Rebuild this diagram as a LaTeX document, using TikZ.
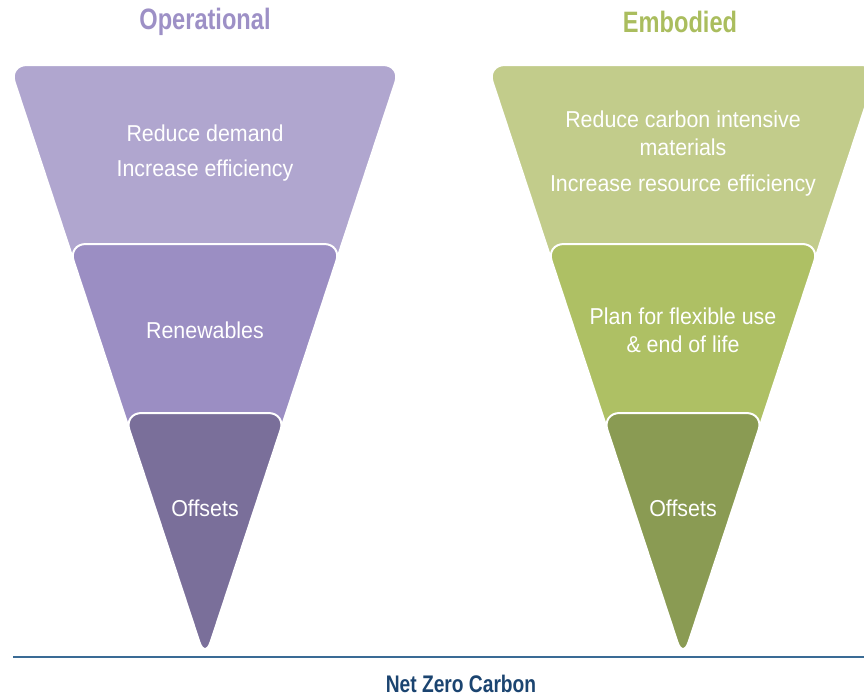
\documentclass[tikz,border=0pt]{standalone}
\usepackage{fontspec}
\setmainfont{Liberation Sans}[FakeStretch=0.93]
\newfontfamily\headfont{Liberation Sans}[FakeStretch=0.8]

% funnel colours
\definecolor{opA}{HTML}{B0A6CF}
\definecolor{opB}{HTML}{9B8EC3}
\definecolor{opC}{HTML}{7A6F9A}
\definecolor{opHead}{HTML}{9D90C6}
\definecolor{emA}{HTML}{C2CC8B}
\definecolor{emB}{HTML}{AEC064}
\definecolor{emC}{HTML}{8A9B53}
\definecolor{emHead}{HTML}{AABD5E}
\definecolor{baseLine}{HTML}{3A6B95}
\definecolor{baseText}{HTML}{1B4470}

% one layer of a funnel: centre x, top y, colour
\newcommand\funnellayer[3]{%
  \fill[#3, draw=white, line width=2pt, rounded corners=18pt]
    (#1,#2) -- ({#1+0.33*(659-#2)},#2) -- (#1,659)
    -- ({#1-0.33*(659-#2)},#2) -- cycle;}

\begin{document}
\begin{tikzpicture}[x=1pt, y=-1pt,
  layertext/.style={text=white, align=center,
    font=\fontsize{23}{28}\selectfont},
  heading/.style={font=\headfont\bfseries\fontsize{29.5}{34}\selectfont}]
\useasboundingbox (0,0) rectangle (864,696);
\clip (0,0) rectangle (864,696);

% operational funnel
\funnellayer{205}{65}{opA}
\funnellayer{205}{244}{opB}
\funnellayer{205}{413}{opC}

% embodied funnel
\funnellayer{683}{65}{emA}
\funnellayer{683}{244}{emB}
\funnellayer{683}{413}{emC}

% headings
\node[heading, text=opHead] (opTitle) at (205,22) {Operational};
\node[heading, text=emHead] (emTitle) at (680,22) {Embodied};

% layer labels
\node[layertext] (opTop) at (205,153) {Reduce demand\\[7pt]Increase efficiency};
\node[layertext] (opMid) at (205,330) {Renewables};
\node[layertext] (opLow) at (205,508) {Offsets};

\node[layertext] (emTop) at (683,154)
  {Reduce carbon intensive\\materials\\[8pt]Increase resource efficiency};
\node[layertext] (emMid) at (683,330) {Plan for flexible use\\\& end of life};
\node[layertext] (emLow) at (683,508) {Offsets};

% base line and goal
\coordinate (baseL) at (13,657);
\coordinate (baseR) at (864,657);
\draw[baseLine, line width=1.5pt] (baseL) -- (baseR);
\node[text=baseText, anchor=base, inner sep=0pt,
  font=\headfont\bfseries\fontsize{24}{28}\selectfont]
  (goal) at (461,692) {Net Zero Carbon};
\end{tikzpicture}
\end{document}
